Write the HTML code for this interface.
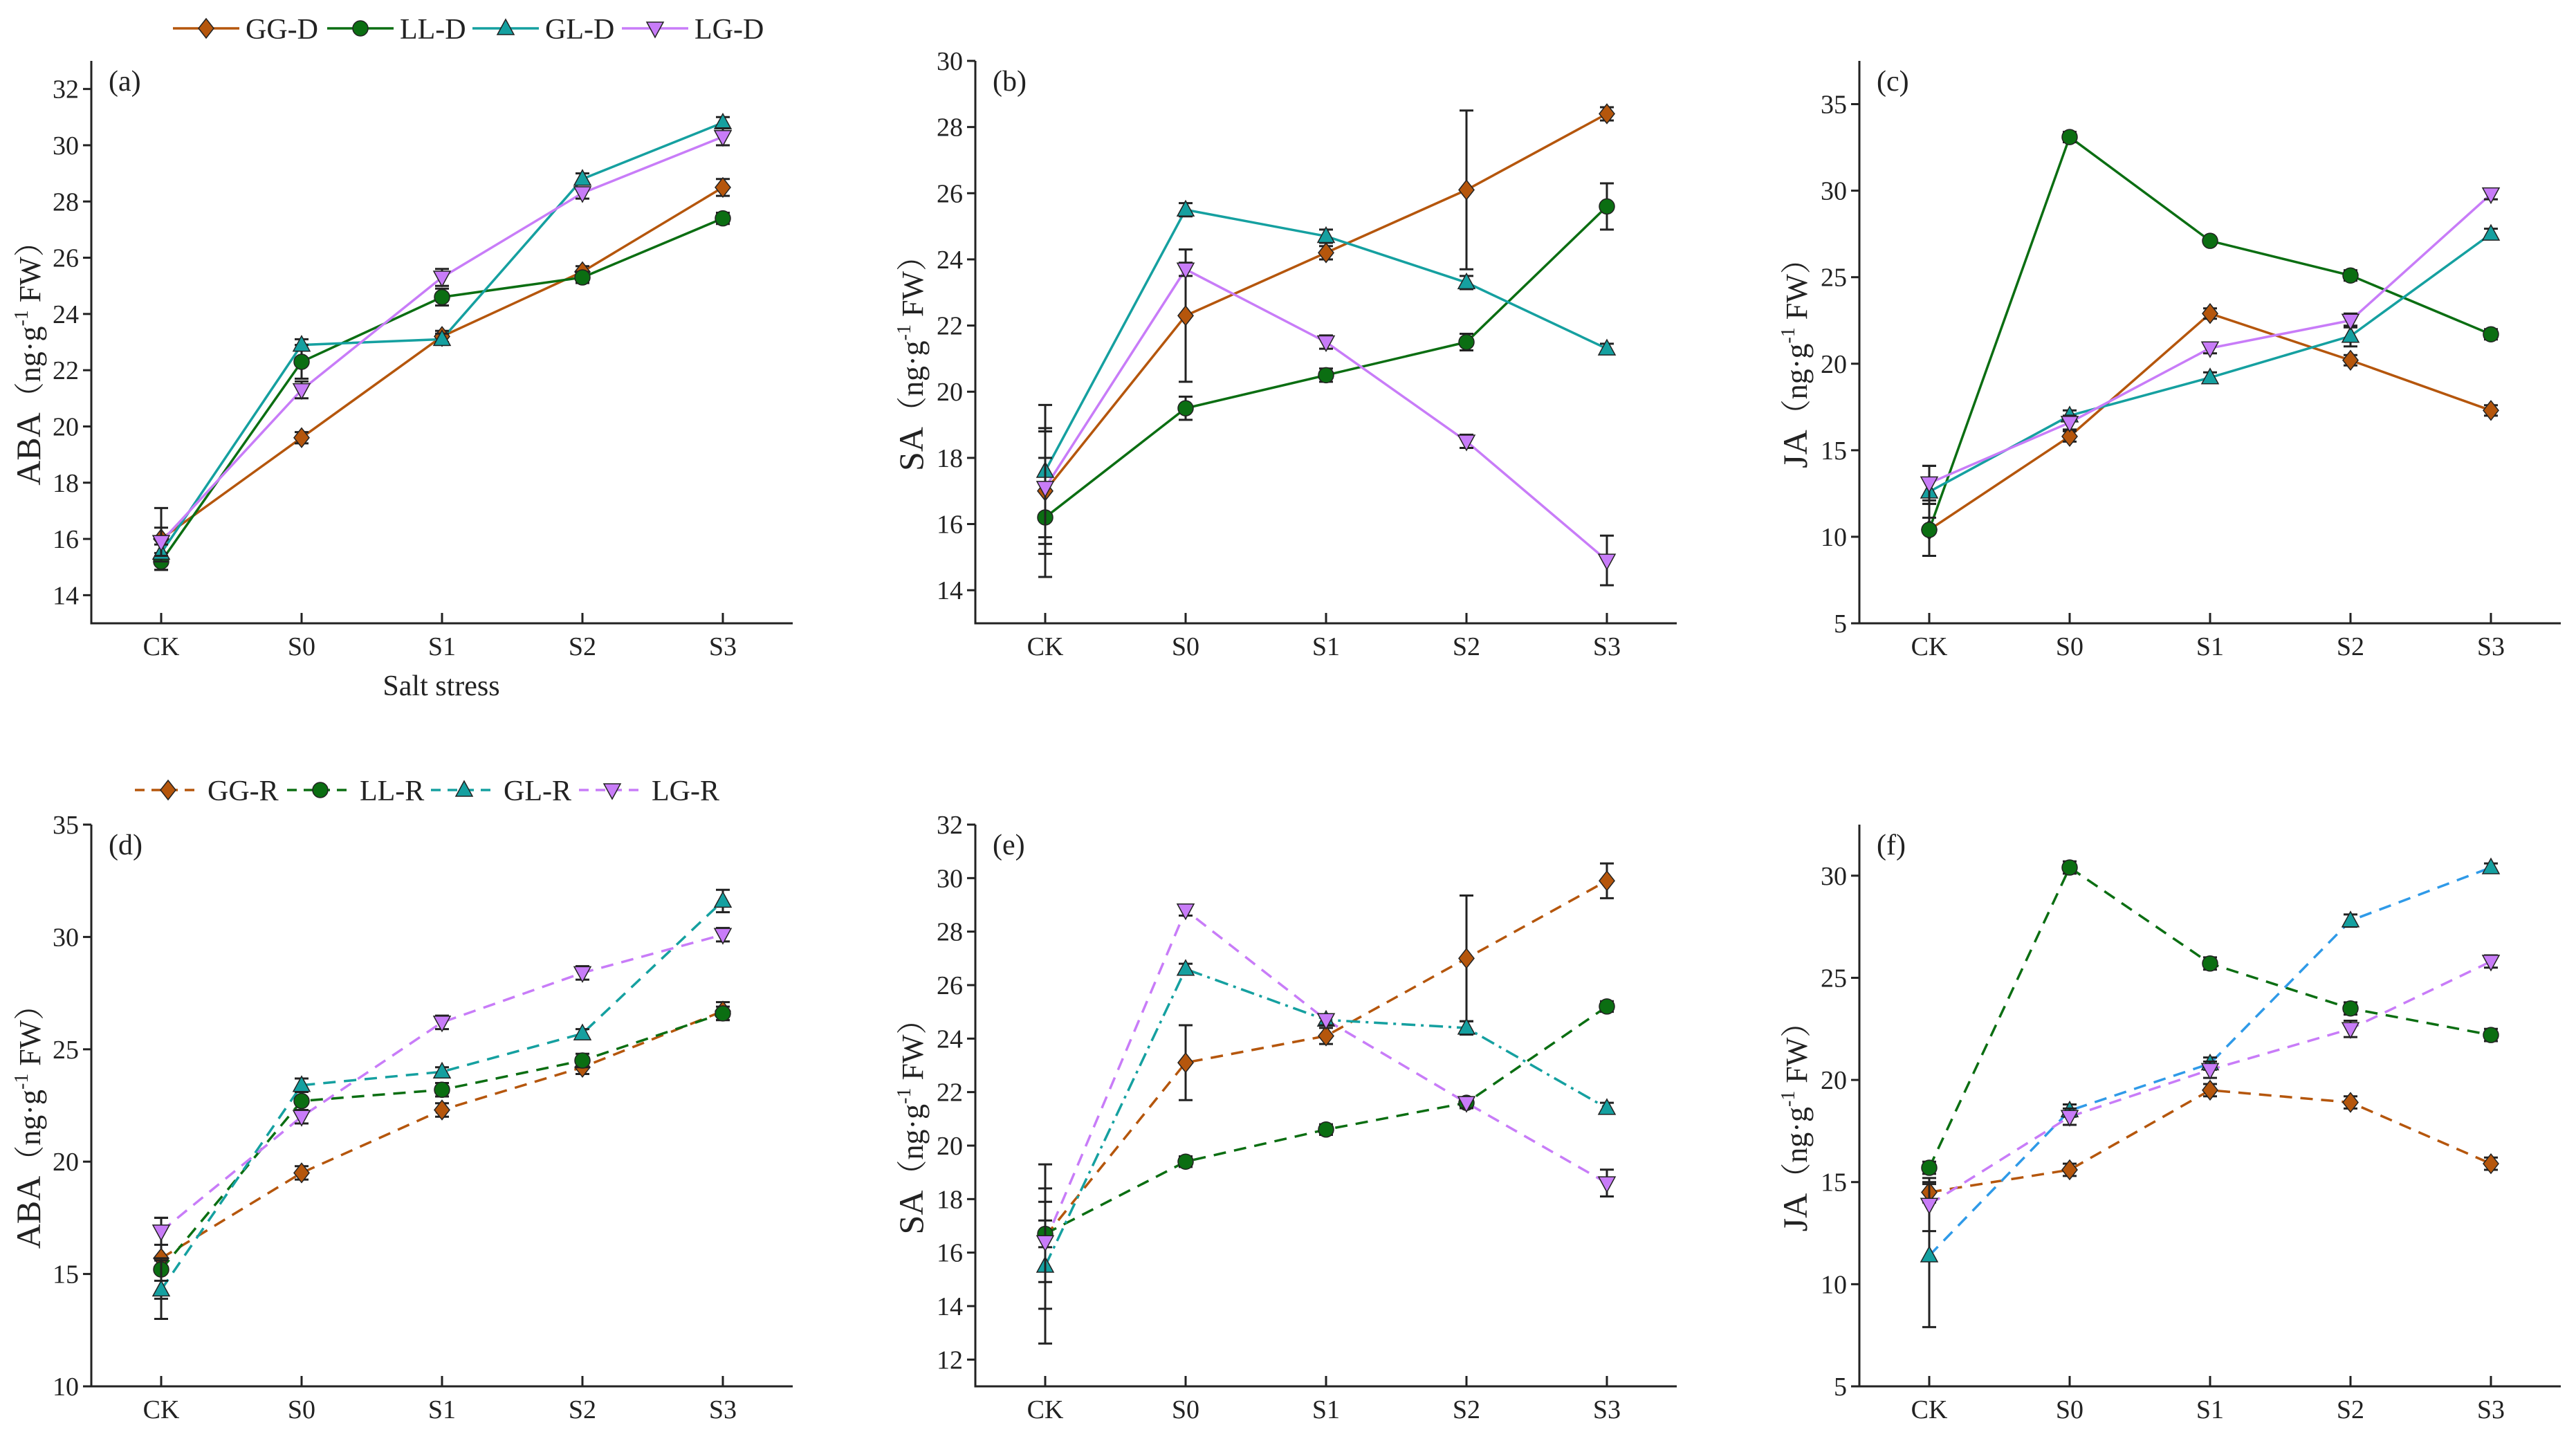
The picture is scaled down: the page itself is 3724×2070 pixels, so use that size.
<!DOCTYPE html>
<html><head><meta charset="utf-8"><style>
html,body{margin:0;padding:0;background:#fff;}
svg{display:block;font-family:"Liberation Serif","Noto Serif CJK SC",serif;}
</style></head><body>
<svg id="chart" width="3724" height="2070" viewBox="0 0 3724 2070" xmlns="http://www.w3.org/2000/svg"></svg>
<script>
const categories = ["CK","S0","S1","S2","S3"];
const seriesNamesD = ["GG-D","LL-D","GL-D","LG-D"];
const seriesNamesR = ["GG-R","LL-R","GL-R","LG-R"];
// panel (a) ABA drought
const aGG=[16.0,19.6,23.2,25.5,28.5], aLL=[15.2,22.3,24.6,25.3,27.4], aGL=[15.5,22.9,23.1,28.8,30.8], aLG=[15.9,21.3,25.3,28.3,30.3];
const aErrGG=[1.1,0.2,0.2,0.2,0.3], aErrLL=[0.3,0.6,0.3,0.2,0.2], aErrGL=[0.3,0.2,0.2,0.2,0.2], aErrLG=[0.5,0.3,0.3,0.2,0.3];
// panel (b) SA
const bGG=[17.0,22.3,24.2,26.1,28.4], bLL=[16.2,19.5,20.5,21.5,25.6], bGL=[17.6,25.5,24.7,23.3,21.3], bLG=[17.1,23.7,21.5,18.5,14.9];
const bErrGG=[1.9,2.0,0.2,2.4,0.2], bErrLL=[1.8,0.35,0.2,0.25,0.7], bErrGL=[2.0,0.2,0.2,0.2,0.15], bErrLG=[1.7,0.2,0.2,0.2,0.75];
// panel (c) JA
const cGG=[10.4,15.8,22.9,20.2,17.3], cLL=[10.4,33.1,27.1,25.1,21.7], cGL=[12.6,17.0,19.2,21.6,27.5], cLG=[13.1,16.6,20.9,22.5,29.8];
const cErrGG=[1.5,0.3,0.3,0.3,0.3], cErrLL=[1.5,0.3,0.2,0.3,0.3], cErrGL=[1.5,0.3,0.3,0.6,0.3], cErrLG=[1.0,0.4,0.3,0.4,0.3];
// panel (d) ABA recovery
const dGG=[15.7,19.5,22.3,24.2,26.7], dLL=[15.2,22.7,23.2,24.5,26.6], dGL=[14.3,23.4,24.0,25.7,31.6], dLG=[16.9,22.0,26.2,28.4,30.1];
const dErrGG=[1.8,0.3,0.3,0.3,0.4], dErrLL=[0.5,0.4,0.3,0.3,0.3], dErrGL=[1.3,0.3,0.2,0.2,0.5], dErrLG=[0.6,0.3,0.3,0.3,0.3];
// panel (e) SA recovery
const eGG=[16.6,23.1,24.1,27.0,29.9], eLL=[16.7,19.4,20.6,21.6,25.2], eGL=[15.5,26.6,24.7,24.4,21.4], eLG=[16.4,28.8,24.7,21.6,18.6];
const eErrGG=[2.7,1.4,0.3,2.35,0.65], eErrLL=[0.5,0.2,0.2,0.2,0.2], eErrGL=[2.9,0.2,0.2,0.25,0.2], eErrLG=[1.5,0.2,0.2,0.2,0.5];
// panel (f) JA recovery
const fGG=[14.5,15.6,19.5,18.9,15.9], fLL=[15.7,30.4,25.7,23.5,22.2], fGL=[11.4,18.5,20.8,27.8,30.4], fLG=[13.9,18.2,20.5,22.5,25.8];
const fErrGG=[0.5,0.3,0.3,0.3,0.3], fErrLL=[0.3,0.3,0.3,0.3,0.3], fErrGL=[3.5,0.3,0.3,0.3,0.2], fErrLG=[1.3,0.4,0.4,0.4,0.3];
const ticksA=[14,16,18,20,22,24,26,28,30,32], ticksB=[14,16,18,20,22,24,26,28,30], ticksC=[5,10,15,20,25,30,35];
const ticksD=[10,15,20,25,30,35], ticksE=[12,14,16,18,20,22,24,26,28,30,32], ticksF=[5,10,15,20,25,30];

const NS="http://www.w3.org/2000/svg";
const svg=document.getElementById('chart');
function mk(tag,attrs,parent){const e=document.createElementNS(NS,tag);for(const k in attrs)e.setAttribute(k,attrs[k]);(parent||svg).appendChild(e);return e;}
const colors=["#b5560c","#0b6e12","#15a0a0","#c87cf8"];
const markers=["diamond","circle","tri-up","tri-down"];
function marker(g,type,x,y,c){
  const s=11;let e;
  if(type==="circle") e=mk('circle',{cx:x,cy:y,r:s},g);
  else if(type==="diamond") e=mk('polygon',{points:`${x},${y-s-3} ${x+s},${y} ${x},${y+s+3} ${x-s},${y}`},g);
  else if(type==="tri-up") e=mk('polygon',{points:`${x},${y-s-2} ${x+s+1},${y+s-2} ${x-s-1},${y+s-2}`},g);
  else e=mk('polygon',{points:`${x},${y+s+2} ${x+s+1},${y-s+2} ${x-s-1},${y-s+2}`},g);
  e.setAttribute('fill',c);e.setAttribute('stroke','#222');e.setAttribute('stroke-width','1.5');
  return e;
}
function panel(p){
  const g=mk('g',{});
  
  
  const x0=p.x0,x1=x0+1014,yT=p.yT,yB=p.yB;
  const Y=v=>yB-(v-p.min)/(p.max-p.min)*(yB-yT);
  const X=i=>x0+101+i*203;
  const ax=mk('path',{d:`M${x0},${yT} L${x0},${yB} L${x1},${yB}`,fill:'none',stroke:'#222','stroke-width':3},g);
  
  p.ticks.forEach(t=>{
    mk('line',{x1:x0-12,x2:x0,y1:Y(t),y2:Y(t),stroke:'#222','stroke-width':3},g);
    const tl=mk('text',{x:x0-18,y:Y(t)+13,'text-anchor':'end','font-size':38,fill:'#222'},g);
    tl.textContent=t;
    
  });
  categories.forEach((c,i)=>{
    mk('line',{x1:X(i),x2:X(i),y1:yB-15,y2:yB,stroke:'#222','stroke-width':3},g);
    const tl=mk('text',{x:X(i),y:yB+46,'text-anchor':'middle','font-size':38,fill:'#222'},g);
    tl.textContent=c;
    
  });
  const yt=mk('text',{transform:`translate(${p.tx},${(yT+yB)/2+20}) rotate(-90)`,'text-anchor':'middle','font-size':44,fill:'#222'},g);
  yt.innerHTML=`<tspan font-size="50">${p.title}</tspan><tspan font-family="Noto Serif CJK SC,serif">（</tspan>ng·g<tspan dy="-18" font-size="28">-1</tspan><tspan dy="18"> FW</tspan><tspan font-family="Noto Serif CJK SC,serif">）</tspan>`;
  
  const pl=mk('text',{x:x0+25,y:yT+43,'font-size':42,fill:'#222'},g);
  pl.textContent='('+p.id+')';
  
  p.series.forEach((vals,si)=>{
    const c=p.lineColors?p.lineColors[si]:colors[si];
    const pts=vals.map((v,i)=>`${X(i)},${Y(v)}`).join(' ');
    const ln=mk('polyline',{points:pts,fill:'none',stroke:c,'stroke-width':3.5},g);
    if(p.dash) ln.setAttribute('stroke-dasharray',(p.dashes&&p.dashes[si])||'18,12');
    
  });
  p.series.forEach((vals,si)=>{
    vals.forEach((v,i)=>{
      const e=p.errs[si][i],x=X(i);
      const eb=mk('path',{d:`M${x},${Y(v+e)} L${x},${Y(v-e)} M${x-10},${Y(v+e)} L${x+10},${Y(v+e)} M${x-10},${Y(v-e)} L${x+10},${Y(v-e)}`,stroke:'#222','stroke-width':3,fill:'none'},g);
      
      const m=marker(g,markers[si],x,Y(v),colors[si]);
      
      
    });
  });
}
function legend(names,x,y,starts,dash){
  const g=mk('g',{});
  
  
  names.forEach((n,i)=>{
    const sx=starts[i];
    const eg=mk('g',{},g);
    
    
    const l=mk('line',{x1:sx,x2:sx+96,y1:y,y2:y,stroke:colors[i],'stroke-width':3.5},eg);
    if(dash) l.setAttribute('stroke-dasharray','14,10');
    marker(eg,markers[i],sx+48,y,colors[i]);
    const t=mk('text',{x:sx+105,y:y+15,'font-size':42,fill:'#222'},eg);
    t.textContent=n;
  });
}
const topRow={yT:88,yB:901}, botRow={yT:1192,yB:2004};
panel({id:'a',x0:132,yT:topRow.yT,yB:topRow.yB,min:13,max:33,ticks:ticksA,tx:58,title:'ABA',names:seriesNamesD,series:[aGG,aLL,aGL,aLG],errs:[aErrGG,aErrLL,aErrGL,aErrLG]});
panel({id:'b',x0:1410,yT:topRow.yT,yB:topRow.yB,min:13,max:30,ticks:ticksB,tx:1334,title:'SA',names:seriesNamesD,series:[bGG,bLL,bGL,bLG],errs:[bErrGG,bErrLL,bErrGL,bErrLG]});
panel({id:'c',x0:2688,yT:topRow.yT,yB:topRow.yB,min:5,max:37.5,ticks:ticksC,tx:2612,title:'JA',names:seriesNamesD,series:[cGG,cLL,cGL,cLG],errs:[cErrGG,cErrLL,cErrGL,cErrLG]});
panel({id:'d',x0:132,yT:botRow.yT,yB:botRow.yB,min:10,max:35,ticks:ticksD,tx:58,title:'ABA',dash:true,names:seriesNamesR,series:[dGG,dLL,dGL,dLG],errs:[dErrGG,dErrLL,dErrGL,dErrLG]});
panel({id:'e',x0:1410,yT:botRow.yT,yB:botRow.yB,min:11,max:32,ticks:ticksE,tx:1334,title:'SA',dash:true,dashes:[null,null,'20,8,4,8',null],names:seriesNamesR,series:[eGG,eLL,eGL,eLG],errs:[eErrGG,eErrLL,eErrGL,eErrLG]});
panel({id:'f',x0:2688,yT:botRow.yT,yB:botRow.yB,min:5,max:32.5,ticks:ticksF,tx:2612,title:'JA',dash:true,lineColors:[colors[0],colors[1],'#2f9ae8',colors[3]],names:seriesNamesR,series:[fGG,fLL,fGL,fLG],errs:[fErrGG,fErrLL,fErrGL,fErrLG]});
legend(seriesNamesD,0,41,[250,473,683,899],false);
legend(seriesNamesR,0,1142,[195,415,623,837],true);
const st=mk('text',{x:638,y:1005,'text-anchor':'middle','font-size':42,fill:'#222'});
st.textContent='Salt stress';


</script>
</body></html>
